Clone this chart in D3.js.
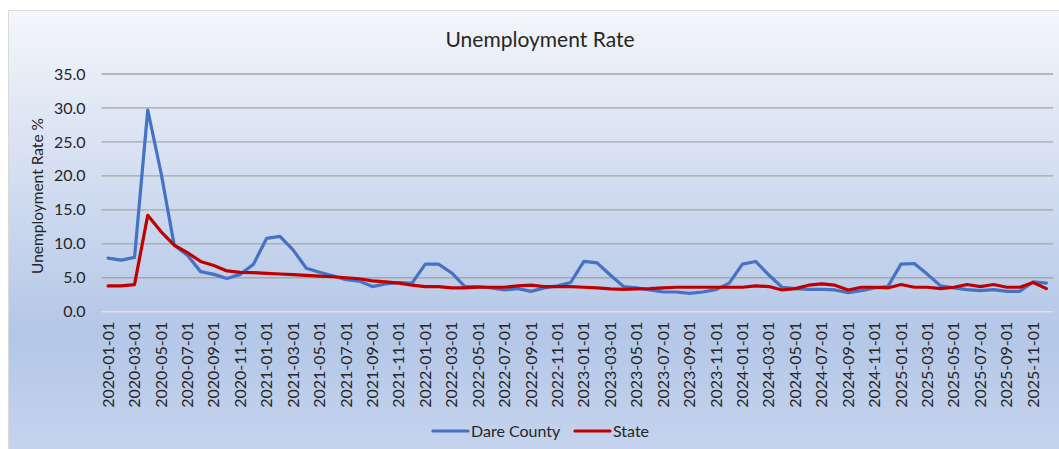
<!DOCTYPE html>
<html>
<head>
<meta charset="utf-8">
<script src="https://cdn.jsdelivr.net/npm/d3@7"></script>
<style>
  body { margin: 0; background: #fff; }
  text { font-family: Lato, "Open Sans", sans-serif; fill: #262626; }
</style>
</head>
<body>
<div id="chart"></div>
<script>
// monthly observations, 2020-01 .. 2025-12
let months = [];
for (let y = 2020; y <= 2025; y++) {
  for (let m = 1; m <= 12; m++) months.push(y + '-' + String(m).padStart(2, '0') + '-01');
}

let dareCounty = [
  7.9, 7.6, 8.0, 29.7, 20.5, 9.8, 8.3, 5.9, 5.5, 4.9, 5.5, 7.0,
  10.8, 11.1, 9.1, 6.4, 5.8, 5.3, 4.7, 4.5, 3.7, 4.1, 4.3, 4.2,
  7.0, 7.0, 5.7, 3.7, 3.7, 3.5, 3.2, 3.4, 3.0, 3.5, 3.8, 4.3,
  7.4, 7.2, 5.4, 3.7, 3.5, 3.2, 2.9, 2.9, 2.7, 2.9, 3.25, 4.2,
  7.0, 7.4, 5.4, 3.6, 3.4, 3.3, 3.3, 3.2, 2.8, 3.1, 3.5, 3.7,
  7.0, 7.1, 5.5, 3.8, 3.5, 3.25, 3.1, 3.25, 3.0, 3.0, 4.4, 4.2
];

let state = [
  3.8, 3.8, 4.0, 14.2, 11.8, 9.8, 8.7, 7.4, 6.8, 6.0, 5.8, 5.75,
  5.65, 5.55, 5.45, 5.35, 5.25, 5.15, 5.0, 4.85, 4.55, 4.4, 4.2, 3.9,
  3.7, 3.7, 3.5, 3.5, 3.6, 3.6, 3.6, 3.8, 3.9, 3.7, 3.7, 3.7,
  3.6, 3.5, 3.35, 3.3, 3.35, 3.4, 3.5, 3.6, 3.6, 3.6, 3.6, 3.6,
  3.6, 3.8, 3.7, 3.2, 3.4, 3.9, 4.1, 3.9, 3.2, 3.6, 3.6, 3.5,
  4.0, 3.6, 3.6, 3.4, 3.6, 4.0, 3.7, 4.0, 3.6, 3.6, 4.3, 3.4
];

let yTicks = [0, 5, 10, 15, 20, 25, 30, 35];
let series = [
  { name: 'Dare County', values: dareCounty, color: '#4472c4' },
  { name: 'State', values: state, color: '#c00000' }
];

let W = 1059, H = 449;
let plot = { left: 101.5, right: 1053, top: 74, bottom: 311.7 };

let svg = d3.select('#chart').append('svg')
  .attr('width', W)
  .attr('height', H);

// chart area background
let grad = svg.append('defs').append('linearGradient')
  .attr('id', 'bg').attr('x1', 0).attr('y1', 0).attr('x2', 0).attr('y2', 1);
grad.append('stop').attr('offset', '0%').attr('stop-color', '#f4f6fb');
grad.append('stop').attr('offset', '72%').attr('stop-color', '#b4c7e7');
grad.append('stop').attr('offset', '100%').attr('stop-color', '#c6d4ee');

svg.append('rect')
  .attr('x', 8.5).attr('y', 10.5)
  .attr('width', W).attr('height', H)
  .attr('fill', 'url(#bg)')
  .attr('stroke', '#d9d9d9');

let x = d3.scaleBand()
  .domain(months)
  .range([plot.left, plot.right]);

let y = d3.scaleLinear()
  .domain([0, 35])
  .range([plot.bottom, plot.top]);

// gridlines
svg.append('g')
  .selectAll('line')
  .data(yTicks.filter(d => d > 0))
  .enter().append('line')
    .attr('x1', plot.left).attr('x2', plot.right)
    .attr('y1', d => y(d)).attr('y2', d => y(d))
    .attr('stroke', '#a6a6a6')
    .attr('stroke-width', 1.3);

// y axis labels
let yAxis = svg.append('g')
  .attr('transform', 'translate(' + (plot.left - 13) + ',0)')
  .call(d3.axisLeft(y).tickValues(yTicks).tickFormat(d3.format('.1f')).tickSize(0));
yAxis.select('.domain').remove();
yAxis.selectAll('text')
  .attr('font-size', 16)
  .attr('font-family', 'Lato, sans-serif')
  .attr('fill', '#262626');

// x axis line and labels
svg.append('line')
  .attr('x1', plot.left).attr('x2', plot.right)
  .attr('y1', plot.bottom).attr('y2', plot.bottom)
  .attr('stroke', '#e4ded2')
  .attr('stroke-width', 1.5);

let xAxis = svg.append('g')
  .attr('transform', 'translate(0,' + plot.bottom + ')')
  .call(d3.axisBottom(x).tickValues(months.filter((d, i) => i % 2 === 0)).tickSize(0));
xAxis.select('.domain').remove();
xAxis.selectAll('text')
  .attr('font-size', 16)
  .attr('font-family', 'Lato, sans-serif')
  .attr('fill', '#262626')
  .attr('transform', 'rotate(-90)')
  .attr('text-anchor', 'end')
  .attr('x', -10)
  .attr('y', 0)
  .attr('dy', '0.35em');

// lines
let line = d3.line()
  .x((d, i) => x(months[i]) + x.bandwidth() / 2)
  .y(d => y(d));

svg.append('g')
  .selectAll('path')
  .data(series)
  .enter().append('path')
    .attr('d', d => line(d.values))
    .attr('fill', 'none')
    .attr('stroke', d => d.color)
    .attr('stroke-width', 3.2)
    .attr('stroke-linejoin', 'round')
    .attr('stroke-linecap', 'round');

// title
svg.append('text')
  .attr('x', 540).attr('y', 47)
  .attr('text-anchor', 'middle')
  .attr('font-size', 21)
  .text('Unemployment Rate');

// y axis title
svg.append('text')
  .attr('transform', 'translate(43,196) rotate(-90)')
  .attr('text-anchor', 'middle')
  .attr('font-size', 15.5)
  .text('Unemployment Rate %');

// legend
let legendX = [433, 575];
let legend = svg.append('g')
  .selectAll('g')
  .data(series)
  .enter().append('g')
    .attr('transform', (d, i) => 'translate(' + legendX[i] + ',431)');
legend.append('line')
  .attr('x1', 0).attr('x2', 35)
  .attr('stroke', d => d.color)
  .attr('stroke-width', 3.2)
  .attr('stroke-linecap', 'round');
legend.append('text')
  .attr('x', 38).attr('dy', '0.35em')
  .attr('font-size', 16)
  .text(d => d.name);
</script>
</body>
</html>
